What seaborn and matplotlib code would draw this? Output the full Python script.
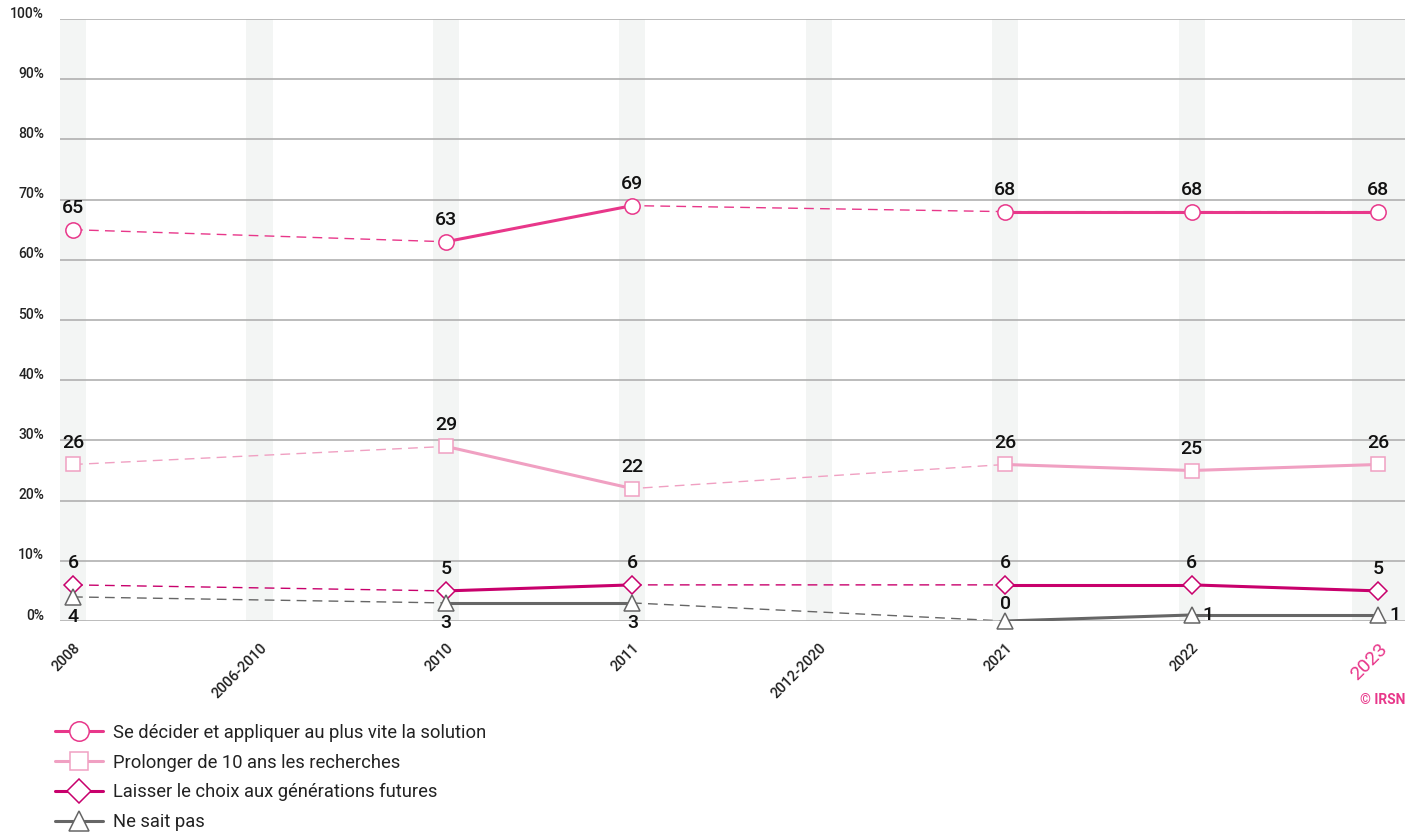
# -*- coding: utf-8 -*-
"""
Opinion sur la gestion des déchets radioactifs (baromètre IRSN)
- courbes par réponse, traits pleins entre années consécutives,
  tirets lorsque des périodes sans mesure sont sautées.
"""
import numpy as np
import pandas as pd
import matplotlib
matplotlib.use("Agg")
import matplotlib.pyplot as plt
import matplotlib.transforms as mtransforms
from matplotlib.lines import Line2D
import seaborn as sns

# --- données ---
periodes = ["2008", "2006-2010", "2010", "2011", "2012-2020", "2021", "2022", "2023"]
se_decider = [65, np.nan, 63, 69, np.nan, 68, 68, 68]
prolonger = [26, np.nan, 29, 22, np.nan, 26, 25, 26]
laisser = [6, np.nan, 5, 6, np.nan, 6, 6, 5]
ne_sait_pas = [4, np.nan, 3, 3, np.nan, 0, 1, 1]

noms = [
    "Se décider et appliquer au plus vite la solution",
    "Prolonger de 10 ans les recherches",
    "Laisser le choix aux générations futures",
    "Ne sait pas",
]
couleurs = ["#e8378a", "#f0a0c2", "#c8006c", "#666666"]
marqueurs = ["o", "s", "D", "^"]
tailles = [11, 10.5, 9, 11]
# position des étiquettes : 'up', 'down', 'right'
pos_labels = [
    ["up"] * 8,
    ["up"] * 8,
    ["up"] * 8,
    ["down", None, "down", "down", None, "up", "right", "right"],
]
series = [se_decider, prolonger, laisser, ne_sait_pas]

# --- style ---
sns.set_theme(style="white")
plt.rcParams["font.family"] = ["Roboto", "DejaVu Sans"]

fig = plt.figure(figsize=(14.15, 8.36), dpi=100)
ax = fig.add_axes([60 / 1415, 1 - 621 / 836, 1345 / 1415, 602 / 836])

x = np.arange(len(periodes))
ax.set_xlim(-0.07, 7.145)
ax.set_ylim(0, 100)

# bandes grises verticales
for i in x:
    if i == len(x) - 1:
        ax.axvspan(i - 0.14, i + 0.2, color="#f3f5f4", zorder=0, lw=0)
    else:
        ax.axvspan(i - 0.07, i + 0.07, color="#f3f5f4", zorder=0, lw=0)

# grille horizontale
ax.set_yticks(range(0, 101, 10))
ax.set_yticklabels([f"{v}%" for v in range(0, 101, 10)])
ax.yaxis.grid(True, color="#aaaaaa", lw=1.1, zorder=1)
ax.set_axisbelow(False)
for s in ax.spines.values():
    s.set_visible(False)
ax.tick_params(axis="y", length=0, pad=11.5, labelsize=10, labelcolor="#222222")
off = mtransforms.ScaledTranslation(0, 5 / 72, fig.dpi_scale_trans)
for lab in ax.get_yticklabels():
    lab.set_fontweight("medium")
    lab.set_transform(lab.get_transform() + off)

ax.set_xticks(x)
ax.set_xticklabels(periodes, rotation=45, ha="right", rotation_mode="anchor")
ax.tick_params(axis="x", length=0, pad=14, labelsize=10.5, labelcolor="#222222")
for lab in ax.get_xticklabels():
    lab.set_fontweight("medium")
last = ax.get_xticklabels()[-1]
last.set_color("#e8378a")
last.set_fontsize(14)
last.set_fontweight("normal")

# --- courbes ---
for k, (vals, nom, col, mk, ms) in enumerate(zip(series, noms, couleurs, marqueurs, tailles)):
    df = pd.DataFrame({"pos": x, "val": vals}).dropna()
    # tirets sur toute la série (sauts de périodes)
    sns.lineplot(data=df, x="pos", y="val", ax=ax, color=col, lw=1.0,
                 linestyle=(0, (7, 4.5)), zorder=2, legend=False)
    # traits pleins entre années consécutives
    p = df["pos"].to_numpy()
    v = df["val"].to_numpy()
    for j in range(len(p) - 1):
        if p[j + 1] - p[j] == 1:
            seg = pd.DataFrame({"pos": p[j:j + 2], "val": v[j:j + 2]})
            sns.lineplot(data=seg, x="pos", y="val", ax=ax, color=col, lw=2.2,
                         zorder=3, legend=False)
    ax.plot(p, v, ls="none", marker=mk, ms=ms, mfc="white", mec=col, mew=1.1,
            zorder=4, clip_on=False)
    # étiquettes
    for pi, vi in zip(p, v):
        where = pos_labels[k][int(pi)]
        kw = dict(textcoords="offset points", fontsize=14, fontweight="medium",
                  color="#111111", zorder=5)
        if where == "up":
            dy = 6 if vi == 0 else 9
            ax.annotate(f"{vi:.0f}", (pi, vi), xytext=(0, dy), ha="center", va="bottom", **kw)
        elif where == "down":
            ax.annotate(f"{vi:.0f}", (pi, vi), xytext=(0, -8), ha="center", va="top", **kw)
        else:
            ax.annotate(f"{vi:.0f}", (pi, vi), xytext=(8, 0), ha="left", va="center", **kw)

ax.set_xlabel("")
ax.set_ylabel("")

# --- légende ---
handles = [Line2D([0], [0], color=c, lw=2.2, marker=m, ms=ms + 3, mfc="white", mec=c, mew=1.1)
           for c, m, ms in zip(couleurs, marqueurs, tailles)]
fig.legend(handles, noms, loc="upper left", bbox_to_anchor=(0.034, 0.143), frameon=False,
           fontsize=13.2, handlelength=2.6, handletextpad=0.55, labelspacing=0.64,
           borderaxespad=0, labelcolor="#222222")

fig.text(1405 / 1415, 1 - 700 / 836, "© IRSN", ha="right", va="center", fontsize=10,
         fontweight="bold", color="#e8378a")

fig.savefig("out.png", dpi=100)
